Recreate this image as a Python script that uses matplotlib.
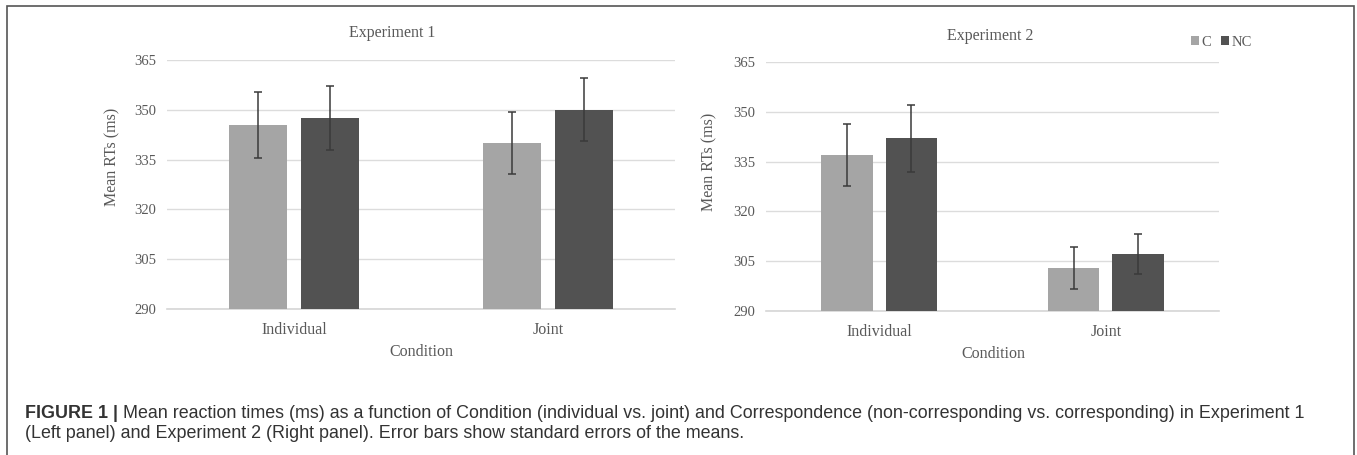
import matplotlib
matplotlib.use("Agg")
import matplotlib.pyplot as plt
import numpy as np
from matplotlib.patches import Rectangle, Patch

# ---- data ----
conditions = ["Individual", "Joint"]
series = ["C", "NC"]
exp1_c = [345.5, 340.0]
exp1_nc = [347.6, 350.0]
exp1_c_se = [10.0, 9.3]
exp1_nc_se = [9.7, 9.5]
exp2_c = [337.0, 303.0]
exp2_nc = [342.0, 307.2]
exp2_c_se = [9.2, 6.3]
exp2_nc_se = [10.0, 6.0]
yticks = [290, 305, 320, 335, 350, 365]
titles = ["Experiment 1", "Experiment 2"]
caption_bold = "FIGURE 1 |"
caption_line1 = (" Mean reaction times (ms) as a function of Condition (individual vs. joint) and "
                 "Correspondence (non-corresponding vs. corresponding) in Experiment 1")
caption_line2 = "(Left panel) and Experiment 2 (Right panel). Error bars show standard errors of the means."

W, H = 1357, 455
fig = plt.figure(figsize=(W / 100, H / 100), dpi=100)
fig.patch.set_facecolor("white")

SERIF = ["Liberation Serif", "DejaVu Serif"]
SANS = ["Liberation Sans", "DejaVu Sans"]
TXT = "#595959"
CAP = "#333333"
C_COL = "#a5a5a5"
NC_COL = "#525252"


def px_axes(x0, y0, x1, y1):
    return fig.add_axes([x0 / W, 1 - y1 / H, (x1 - x0) / W, (y1 - y0) / H])


def draw_panel(ax, c, nc, cse, nse):
    x = np.arange(len(conditions))
    bw = 0.228
    off = 0.142
    ax.bar(x - off, np.array(c) - 290, bw, bottom=290, color=C_COL, zorder=2)
    ax.bar(x + off, np.array(nc) - 290, bw, bottom=290, color=NC_COL, zorder=2)
    ax.errorbar(x - off, c, yerr=cse, fmt="none", ecolor="#3a3a3a", elinewidth=1.1,
                capsize=3, capthick=1.1, zorder=3)
    ax.errorbar(x + off, nc, yerr=nse, fmt="none", ecolor="#3a3a3a", elinewidth=1.1,
                capsize=3, capthick=1.1, zorder=3)
    ax.set_xlim(-0.5, len(conditions) - 0.5)
    ax.set_ylim(290, 365)
    ax.set_yticks(yticks)
    ax.set_yticklabels([str(t) for t in yticks], family=SERIF, fontsize=10.5, color=TXT)
    ax.set_xticks(x)
    ax.set_xticklabels(conditions, family=SERIF, fontsize=11.5, color=TXT)
    ax.tick_params(length=0, pad=8)
    ax.tick_params(axis="x", pad=9)
    for s in ax.spines.values():
        s.set_visible(False)
    ax.grid(axis="y", color="#dcdcdc", linewidth=1.0, zorder=0)
    ax.axhline(290, color="#d6d6d6", linewidth=1.2, zorder=1, clip_on=False)
    ax.set_axisbelow(True)
    ax.set_facecolor("none")


ax1 = px_axes(167, 60, 675, 309)
draw_panel(ax1, exp1_c, exp1_nc, exp1_c_se, exp1_nc_se)
ax2 = px_axes(766, 62, 1219, 311)
draw_panel(ax2, exp2_c, exp2_nc, exp2_c_se, exp2_nc_se)

# titles
fig.text(392 / W, 1 - 33 / H, titles[0], ha="center", va="center", family=SERIF, fontsize=11.5, color=TXT)
fig.text(990 / W, 1 - 36 / H, titles[1], ha="center", va="center", family=SERIF, fontsize=11.5, color=TXT)
# axis labels
fig.text(112 / W, 1 - 157 / H, "Mean RTs (ms)", ha="center", va="center", rotation=90,
         family=SERIF, fontsize=11.5, color=TXT)
fig.text(709 / W, 1 - 162 / H, "Mean RTs (ms)", ha="center", va="center", rotation=90,
         family=SERIF, fontsize=11.5, color=TXT)
fig.text(421 / W, 1 - 352 / H, "Condition", ha="center", va="center", family=SERIF, fontsize=11.5, color=TXT)
fig.text(993 / W, 1 - 354 / H, "Condition", ha="center", va="center", family=SERIF, fontsize=11.5, color=TXT)

# legend
handles = [Patch(facecolor=C_COL, edgecolor="none", label=series[0]),
           Patch(facecolor=NC_COL, edgecolor="none", label=series[1])]
leg = fig.legend(handles=handles, loc="center left", bbox_to_anchor=(1191 / W, 1 - 42 / H),
                 ncol=2, frameon=False, handlelength=0.55, handleheight=0.55, handletextpad=0.15,
                 columnspacing=0.7, borderaxespad=0, borderpad=0,
                 prop={"family": SERIF, "size": 10.5})
for t in leg.get_texts():
    t.set_color(TXT)

# frame
fig.patches.append(Rectangle((7 / W, -0.05), (1354 - 7) / W, 1.05 - 6 / H, transform=fig.transFigure,
                             fill=False, edgecolor="#555555", linewidth=1.2, zorder=10))

# caption (font size fitted so that line 1 spans the same width as the reference)
fs = 10.0
t0 = fig.text(25 / W, 1 - 413 / H, caption_bold, ha="left", va="center", family=SANS,
              fontsize=fs, fontweight="bold", color=CAP)
t1 = fig.text(0, 1 - 413 / H, caption_line1, ha="left", va="center", family=SANS,
              fontsize=fs, color=CAP)
r = fig.canvas.get_renderer()
w_total = t0.get_window_extent(r).width + t1.get_window_extent(r).width
fs = fs * (1308 - 25) / w_total
t0.set_fontsize(fs)
t1.set_fontsize(fs)
bb = t0.get_window_extent(r)
t1.set_x(bb.x1 / W)
fig.text(25 / W, 1 - 433 / H, caption_line2, ha="left", va="center", family=SANS,
         fontsize=fs, color=CAP)

fig.savefig("out.png", dpi=100, facecolor="white")
